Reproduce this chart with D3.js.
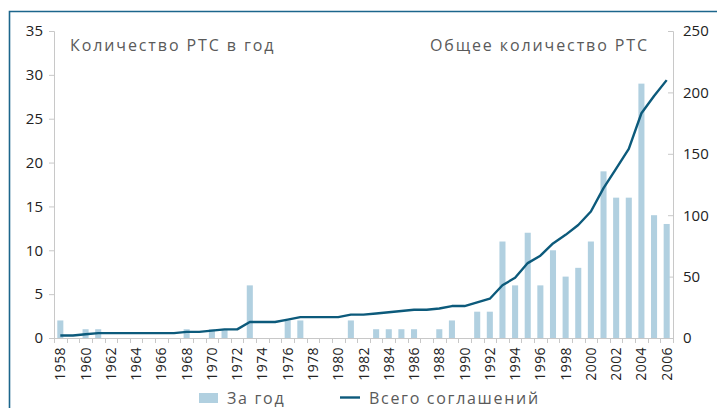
<!DOCTYPE html>
<html>
<head>
<meta charset="utf-8">
<script src="https://cdn.jsdelivr.net/npm/d3@7"></script>
<style>
  body { margin: 0; background: #fff; }
  svg { display: block; font-family: "Open Sans", sans-serif; }
</style>
</head>
<body>
<svg width="717" height="408"></svg>
<script>
const years = d3.range(1958, 2007);
const perYear = [
  2, 0, 1, 1, 0, 0, 0, 0, 0, 0,
  1, 0, 1, 1, 0, 6, 0, 0, 2, 2,
  0, 0, 0, 2, 0, 1, 1, 1, 1, 0,
  1, 2, 0, 3, 3, 11, 6, 12, 6, 10,
  7, 8, 11, 19, 16, 16, 29, 14, 13
];
const total = [
  2, 2, 3, 4, 4, 4, 4, 4, 4, 4,
  5, 5, 6, 7, 7, 13, 13, 13, 15, 17,
  17, 17, 17, 19, 19, 20, 21, 22, 23, 23,
  24, 26, 26, 29, 32, 43, 49, 61, 67, 77,
  84, 92, 103, 122, 138, 154, 183, 197, 210
];
const leftTicks = [0, 5, 10, 15, 20, 25, 30, 35];
const rightTicks = [0, 50, 100, 150, 200, 250];
const labelYears = years.filter(y => y % 2 === 0);

const barColor = '#b1d0e0';
const lineColor = '#0c5a7b';
const frameColor = '#1c668c';
const textGray = '#5a5a5a';

const svg = d3.select('svg');
const plotLeft = 54, plotRight = 673, plotTop = 31, plotBottom = 338;

const x = d3.scaleBand().domain(years).range([plotLeft, plotRight]).paddingInner(0.52).paddingOuter(0.26);
const yL = d3.scaleLinear().domain([0, 35]).range([plotBottom, plotTop]);
const yR = d3.scaleLinear().domain([0, 250]).range([plotBottom, plotTop]);

// frame
svg.append('path')
  .attr('d', `M9.5,408 L9.5,11.5 L717,11.5`)
  .attr('fill', 'none')
  .attr('stroke', frameColor)
  .attr('stroke-width', 1.6);

// left axis
const gL = svg.append('g').attr('transform', `translate(${plotLeft},0)`)
  .call(d3.axisLeft(yL).tickValues(leftTicks).tickSize(5).tickPadding(6));
// right axis (ticks point inward)
const gR = svg.append('g').attr('transform', `translate(${plotRight},0)`)
  .call(d3.axisRight(yR).tickValues(rightTicks).tickSize(-5).tickPadding(10));
[gL, gR].forEach(g => {
  g.select('.domain').attr('stroke', '#c8c8c8');
  g.selectAll('.tick line').attr('stroke', '#c8c8c8');
  g.selectAll('.tick text').attr('fill', '#222').style('font-size', '15px')
    .style('font-family', '"Open Sans", sans-serif');
});

// bottom axis
svg.append('line')
  .attr('x1', plotLeft).attr('x2', plotRight).attr('y1', plotBottom + 0.5).attr('y2', plotBottom + 0.5)
  .attr('stroke', '#c8c8c8');
const step = x.step();
svg.append('g').selectAll('line')
  .data(years.concat([2007]))
  .join('line')
  .attr('x1', d => Math.round(plotLeft + (d - 1958) * step) + 0.5)
  .attr('x2', d => Math.round(plotLeft + (d - 1958) * step) + 0.5)
  .attr('y1', plotBottom).attr('y2', plotBottom + 5)
  .attr('stroke', '#c8c8c8');
svg.append('g').selectAll('text')
  .data(labelYears)
  .join('text')
  .attr('transform', d => `translate(${x(d) + x.bandwidth() / 2 + 5},347) rotate(-90)`)
  .attr('text-anchor', 'end')
  .attr('fill', '#222')
  .style('font-size', '14px')
  .style('letter-spacing', '0.4px')
  .text(d => d);

// bars
svg.append('g').selectAll('rect')
  .data(years)
  .join('rect')
  .attr('x', d => x(d))
  .attr('width', x.bandwidth())
  .attr('y', (d, i) => yL(perYear[i]))
  .attr('height', (d, i) => plotBottom - yL(perYear[i]))
  .attr('fill', barColor);

// cumulative line
const line = d3.line()
  .x(d => x(d[0]) + x.bandwidth() / 2)
  .y(d => yR(d[1]));
svg.append('path')
  .datum(years.map((y, i) => [y, total[i]]))
  .attr('d', line)
  .attr('fill', 'none')
  .attr('stroke', lineColor)
  .attr('stroke-width', 2.4)
  .attr('stroke-linejoin', 'round');

// annotations
svg.append('text').attr('x', 70).attr('y', 51)
  .attr('fill', textGray).style('font-size', '16px').style('letter-spacing', '1.9px')
  .text('Количество РТС в год');
svg.append('text').attr('x', 649).attr('y', 51).attr('text-anchor', 'end')
  .attr('fill', textGray).style('font-size', '16px').style('letter-spacing', '1.9px')
  .text('Общее количество РТС');

// legend
const leg = svg.append('g');
leg.append('rect').attr('x', 199).attr('y', 393).attr('width', 19).attr('height', 10).attr('fill', barColor);
leg.append('text').attr('x', 227).attr('y', 404).attr('fill', textGray)
  .style('font-size', '16px').style('letter-spacing', '1.7px').text('За год');
leg.append('line').attr('x1', 340).attr('x2', 360).attr('y1', 397.5).attr('y2', 397.5)
  .attr('stroke', lineColor).attr('stroke-width', 2.4);
leg.append('text').attr('x', 369).attr('y', 404).attr('fill', textGray)
  .style('font-size', '16px').style('letter-spacing', '1.7px').text('Всего соглашений');
</script>
</body>
</html>
